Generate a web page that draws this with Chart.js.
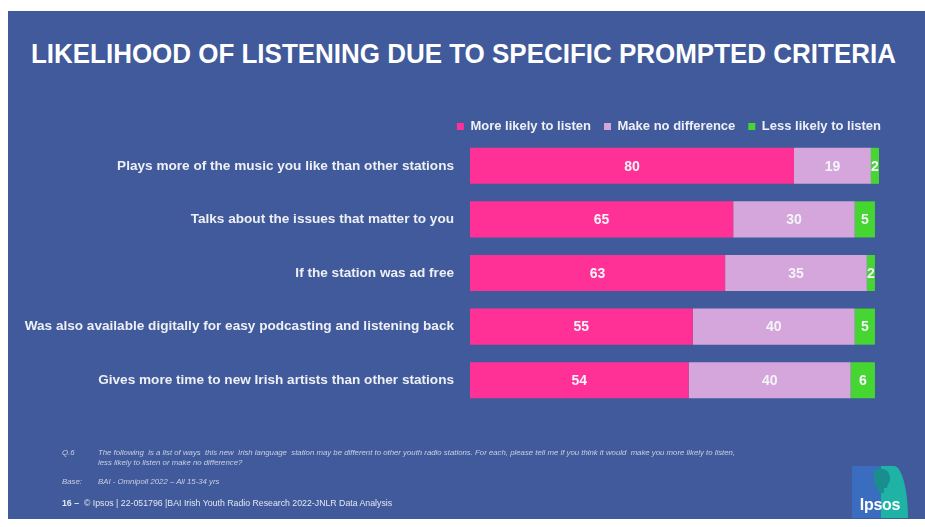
<!DOCTYPE html>
<html>
<head>
<meta charset="utf-8">
<script src="https://cdn.jsdelivr.net/npm/chart.js@4/dist/chart.umd.min.js"></script>
<style>
  html, body { margin: 0; padding: 0; background: #ffffff; width: 925px; height: 527px; overflow: hidden; }
  #panel { position: absolute; left: 8px; top: 11px; width: 917px; height: 508px; background: #405A9B; }
  #title { position: absolute; left: -3px; top: 37px; width: 925px; text-align: center; white-space: nowrap;
           font: bold 28px "Liberation Sans", Arial, sans-serif; color: #ffffff; line-height: 34px; }
  #title span { display: inline-block; transform-origin: center center; }
  #wrap { position: absolute; left: 0; top: 0; width: 925px; height: 527px; }
  .note { position: absolute; font: italic 7.8px "Liberation Sans", Arial, sans-serif; color: #c9cfe3; white-space: nowrap; }
  .foot { position: absolute; font: 8.75px "Liberation Sans", Arial, sans-serif; color: #e4e7f1; white-space: nowrap; }
  #logo { position: absolute; left: 852px; top: 466px; width: 56px; height: 52px; overflow: hidden; }
  #logo .b { position: absolute; left: 0; top: 0; width: 29px; height: 52px; background: #3a6cc0; }
  #logo .t { position: absolute; left: 29px; top: 0; width: 27px; height: 52px; background: #1fb3a6; border-radius: 0 14px 0 0 / 0 52px 0 0; }
  #logo .txt { position: absolute; left: 0; width: 56px; top: 30px; text-align: center; font: bold 16px "Liberation Sans", Arial, sans-serif; color: #ffffff; letter-spacing: -0.3px; }
</style>
</head>
<body>
<div id="panel"></div>
<div id="title"><span id="titleSpan">LIKELIHOOD OF LISTENING DUE TO SPECIFIC PROMPTED CRITERIA</span></div>
<div id="wrap"><canvas id="c" width="925" height="527"></canvas></div>

<div class="note" style="left:62px; top:448px;">Q.6</div>
<div class="note" style="left:98px; top:448px;">The following &nbsp;is a list of ways &nbsp;this new &nbsp;Irish language &nbsp;station may be different to other youth radio stations. For each, please tell me if you think it would &nbsp;make you more likely to listen,</div>
<div class="note" style="left:98px; top:458px;">less likely to listen or make no difference?</div>
<div class="note" style="left:62px; top:477px;">Base:</div>
<div class="note" style="left:98px; top:477px;">BAI - Omnipoll 2022 – All 15-34 yrs</div>
<div class="foot" style="left:62px; top:498px;"><b>16 –</b> &nbsp;© Ipsos | 22-051796 |BAI Irish Youth Radio Research 2022-JNLR Data Analysis</div>

<div id="logo">
  <div class="b"></div><div class="t"></div>
  <svg style="position:absolute;left:0;top:0" width="56" height="52">
    <path d="M22 4 C22 2 36 1 37 8 C39 12 38 16 36 18 L35 22 L32 22 L32 27 L25 27 L26 22 C22 20 21 14 22 10 Z" fill="#1a8d8f"/>
  </svg>
  <div class="txt">Ipsos</div>
</div>

<script>
// ---- data ----
const categories = [
  "Plays more of the music you like than other stations",
  "Talks about the issues that matter to you",
  "If the station was ad free",
  "Was also available digitally for easy podcasting and listening back",
  "Gives more time to new Irish artists than other stations"
];
const seriesNames = ["More likely to listen", "Make no difference", "Less likely to listen"];
const moreLikely   = [80, 65, 63, 55, 54];
const noDifference = [19, 30, 35, 40, 40];
const lessLikely   = [2, 5, 2, 5, 6];
const seriesColors = ["#FF3096", "#D4A6DC", "#46D632"];

// fit title width
(function(){
  const s = document.getElementById('titleSpan');
  const w = s.getBoundingClientRect().width;
  const target = 865;
  s.style.transform = 'scaleX(' + (target / w) + ')';
})();

const valueLabels = {
  id: 'valueLabels',
  afterDatasetsDraw(chart) {
    const ctx = chart.ctx;
    ctx.save();
    ctx.font = 'bold 14px "Liberation Sans", Arial, sans-serif';
    ctx.fillStyle = '#F4F4F8';
    ctx.textAlign = 'center';
    ctx.textBaseline = 'middle';
    chart.data.datasets.forEach((ds, di) => {
      const meta = chart.getDatasetMeta(di);
      meta.data.forEach((bar, i) => {
        const cx = (bar.x + bar.base) / 2;
        ctx.fillText(String(ds.data[i]), cx, bar.y + 1);
      });
    });
    ctx.restore();
  }
};

const labelColor = '#EEF0F6';

new Chart(document.getElementById('c'), {
  type: 'bar',
  data: {
    labels: categories,
    datasets: [
      { label: seriesNames[0], data: moreLikely,   backgroundColor: seriesColors[0] },
      { label: seriesNames[1], data: noDifference, backgroundColor: seriesColors[1] },
      { label: seriesNames[2], data: lessLikely,   backgroundColor: seriesColors[2] }
    ]
  },
  options: {
    indexAxis: 'y',
    responsive: false,
    animation: false,
    devicePixelRatio: 1,
    layout: { padding: { top: 107, right: 31, bottom: 120, left: 0 } },
    datasets: { bar: { categoryPercentage: 1, barPercentage: 0.673, borderWidth: 0 } },
    scales: {
      x: { stacked: true, min: 0, max: 101, display: false },
      y: {
        stacked: true,
        grid: { display: false, drawTicks: false },
        border: { display: false },
        ticks: { color: labelColor, padding: 16, font: { family: '"Liberation Sans", Arial, sans-serif', size: 13.6, weight: 'bold' } },
        afterFit: s => { s.width = 470; }
      },
      yR: {
        type: 'category', position: 'right', display: true,
        grid: { display: false, drawTicks: false }, border: { display: false },
        ticks: { display: false },
        afterFit: s => { s.width = 15; }
      }
    },
    plugins: {
      legend: {
        position: 'top', align: 'end', maxHeight: 32,
        labels: {
          color: labelColor, boxWidth: 7, boxHeight: 7, padding: 13,
          font: { family: '"Liberation Sans", Arial, sans-serif', size: 13, weight: 'bold' }
        }
      },
      tooltip: { enabled: false }
    }
  },
  plugins: [valueLabels]
});
</script>
</body>
</html>
